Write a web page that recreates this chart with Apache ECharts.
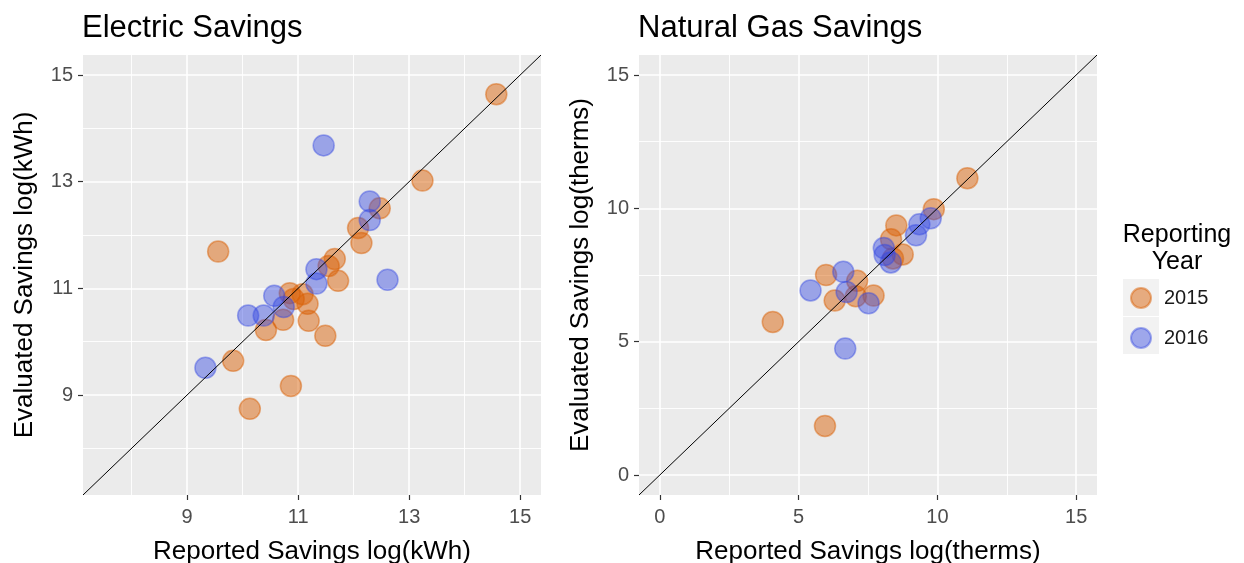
<!DOCTYPE html>
<html>
<head>
<meta charset="utf-8">
<script src="https://cdn.jsdelivr.net/npm/echarts@6/dist/echarts.min.js"></script>
<style>
  html, body { margin: 0; padding: 0; background: #fff; }
  #main { width: 1244px; height: 563px; }
</style>
</head>
<body>
<div id="main"></div>
<script>
// 数据 (log values)
var years = ['2015', '2016'];

var elecReported2015 = [9.56, 12.47, 12.08, 12.14, 11.66, 11.55, 11.72, 10.85, 11.08, 11.17, 10.92, 10.73, 10.42, 11.19, 11.49, 9.83, 10.87, 10.13, 14.57, 13.24];
var elecEvaluated2015 = [11.69, 12.50, 12.13, 11.85, 11.55, 11.42, 11.14, 10.91, 10.89, 10.71, 10.80, 10.41, 10.22, 10.39, 10.11, 9.64, 9.17, 8.74, 14.64, 13.02];
var elecReported2016 = [11.46, 12.29, 12.29, 11.33, 11.33, 12.61, 10.57, 10.74, 10.10, 10.38, 9.33];
var elecEvaluated2016 = [13.68, 12.63, 12.28, 11.36, 11.09, 11.16, 10.86, 10.65, 10.49, 10.49, 9.51];

var gasReported2015 = [11.08, 9.87, 8.52, 8.33, 8.75, 8.40, 5.99, 7.11, 7.70, 6.30, 7.06, 4.07, 5.95];
var gasEvaluated2015 = [11.13, 9.97, 9.36, 8.84, 8.27, 8.12, 7.50, 7.28, 6.73, 6.54, 6.70, 5.74, 1.84];
var gasReported2016 = [9.76, 9.35, 9.23, 8.07, 8.10, 8.32, 6.61, 5.43, 6.73, 7.52, 6.68];
var gasEvaluated2016 = [9.63, 9.40, 8.99, 8.51, 8.25, 7.97, 7.62, 6.92, 6.86, 6.44, 4.74];

var elecTicks = [9, 11, 13, 15];
var elecMinor = [8, 10, 12, 14];
var gasTicks = [0, 5, 10, 15];
var gasMinor = [2.5, 7.5, 12.5];

var elecRange = [7.125, 15.375];
var gasRange = [-0.75, 15.75];

function pairs(xs, ys) {
  return xs.map(function (x, i) { return [x, ys[i]]; });
}

var font = '"Liberation Sans", Arial, sans-serif';
var orange = 'rgba(217,95,2,0.6)';
var blue = 'rgba(50,70,225,0.55)';

function majorAxis(grid, range, ticks, name, isY) {
  return {
    type: 'value', gridIndex: grid, min: range[0], max: range[1],
    name: name, nameLocation: 'middle', nameGap: isY ? 45 : 44,
    nameTextStyle: { fontFamily: font, fontSize: 26, color: '#000' },
    axisLine: { show: false, onZero: false },
    axisTick: { show: true, length: 5, customValues: ticks, lineStyle: { color: '#333', width: 1.2 } },
    axisLabel: { customValues: ticks, fontFamily: font, fontSize: 20, color: '#4d4d4d', margin: isY ? 10 : 12 },
    splitLine: { show: true, lineStyle: { color: '#fff', width: 1.6 } }
  };
}
function minorAxis(grid, range, ticks) {
  return {
    type: 'value', gridIndex: grid, min: range[0], max: range[1],
    axisLine: { show: false, onZero: false },
    axisTick: { show: false, customValues: ticks },
    axisLabel: { show: false, customValues: ticks },
    splitLine: { show: true, lineStyle: { color: '#fff', width: 0.9 } }
  };
}
function points(name, xi, yi, data, color) {
  return {
    name: name, type: 'scatter', xAxisIndex: xi, yAxisIndex: yi,
    data: data, symbolSize: 21,
    itemStyle: { color: color, borderColor: color, borderWidth: 1.5 },
    emphasis: { disabled: true }
  };
}
function diag(xi, yi, range) {
  return {
    type: 'line', xAxisIndex: xi, yAxisIndex: yi, silent: true,
    data: range.map(function (v) { return [v, v]; }),
    symbol: 'none', lineStyle: { color: '#000', width: 1 }, z: 3
  };
}

var myChart = echarts.init(document.getElementById('main'));

var option = {
  animation: false,
  backgroundColor: '#fff',
  title: [
    { text: 'Electric Savings', left: 82, top: 13, padding: 0, textStyle: { fontFamily: font, fontSize: 31, fontWeight: 'normal', color: '#000' } },
    { text: 'Natural Gas Savings', left: 638, top: 13, padding: 0, textStyle: { fontFamily: font, fontSize: 31, fontWeight: 'normal', color: '#000' } },
    { text: 'Reporting\nYear', left: 1177, top: 222, padding: 0, textAlign: 'center',
      textStyle: { fontFamily: font, fontSize: 25, fontWeight: 'normal', color: '#000', lineHeight: 27 } }
  ],
  graphic: [
    { type: 'rect', shape: { x: 1123, y: 279, width: 36, height: 37 }, style: { fill: '#f2f2f2' }, z: 0 },
    { type: 'rect', shape: { x: 1123, y: 317, width: 36, height: 37 }, style: { fill: '#f2f2f2' }, z: 0 }
  ],
  legend: {
    data: years, orient: 'vertical', left: 1130, top: 287, padding: 0,
    itemWidth: 20, itemHeight: 20, itemGap: 18, icon: 'circle',
    textStyle: { fontFamily: font, fontSize: 20, color: '#1a1a1a', padding: [0, 0, 0, 8] },
    selectedMode: false
  },
  grid: [
    { left: 83, top: 55, width: 458, height: 440, outerBoundsMode: 'none', containLabel: false,
      show: true, backgroundColor: '#ebebeb', borderWidth: 0 },
    { left: 639, top: 55, width: 458, height: 440, outerBoundsMode: 'none', containLabel: false,
      show: true, backgroundColor: '#ebebeb', borderWidth: 0 }
  ],
  xAxis: [
    majorAxis(0, elecRange, elecTicks, 'Reported Savings log(kWh)', false),
    minorAxis(0, elecRange, elecMinor),
    majorAxis(1, gasRange, gasTicks, 'Reported Savings log(therms)', false),
    minorAxis(1, gasRange, gasMinor)
  ],
  yAxis: [
    majorAxis(0, elecRange, elecTicks, 'Evaluated Savings log(kWh)', true),
    minorAxis(0, elecRange, elecMinor),
    majorAxis(1, gasRange, gasTicks, 'Evaluated Savings log(therms)', true),
    minorAxis(1, gasRange, gasMinor)
  ],
  series: [
    diag(0, 0, elecRange),
    diag(2, 2, gasRange),
    points('2015', 0, 0, pairs(elecReported2015, elecEvaluated2015), orange),
    points('2016', 0, 0, pairs(elecReported2016, elecEvaluated2016), blue),
    points('2015', 2, 2, pairs(gasReported2015, gasEvaluated2015), orange),
    points('2016', 2, 2, pairs(gasReported2016, gasEvaluated2016), blue)
  ]
};

myChart.setOption(option);
</script>
</body>
</html>
